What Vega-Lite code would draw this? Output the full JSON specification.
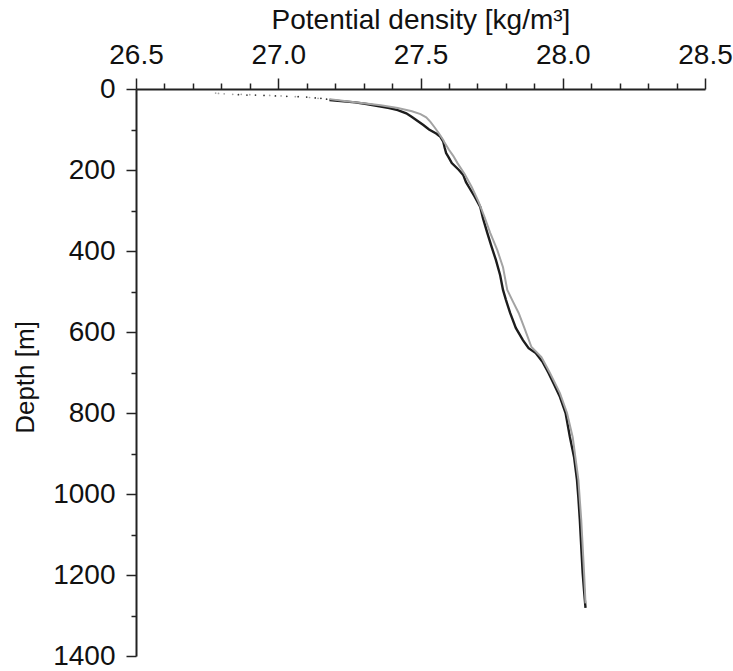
{
  "$schema": "https://vega.github.io/schema/vega-lite/v6.json",
  "autosize": "none",
  "width": 569,
  "height": 567,
  "padding": {"left": 136, "top": 89, "right": 28, "bottom": 15},
  "background": "white",
  "config": {
    "view": {"stroke": null},
    "font": "Liberation Sans",
    "axis": {"grid": false, "domainColor": "#222", "tickColor": "#222", "domainWidth": 2, "tickWidth": 1.5, "labelColor": "#111", "titleColor": "#111", "labelFont": "Liberation Sans", "titleFont": "Liberation Sans", "titleFontWeight": "normal"}
  },
  "datasets": {
    "profiles": [
      {"cast": "A", "kind": "dot", "depth": 14, "density": 26.86},
      {"cast": "A", "kind": "dot", "depth": 15, "density": 26.89},
      {"cast": "A", "kind": "dot", "depth": 15, "density": 26.92},
      {"cast": "A", "kind": "dot", "depth": 16, "density": 26.95},
      {"cast": "A", "kind": "dot", "depth": 17, "density": 26.99},
      {"cast": "A", "kind": "dot", "depth": 18, "density": 27.03},
      {"cast": "A", "kind": "dot", "depth": 19, "density": 27.07},
      {"cast": "A", "kind": "dot", "depth": 20, "density": 27.10},
      {"cast": "A", "kind": "dot", "depth": 22, "density": 27.13},
      {"cast": "A", "kind": "dot", "depth": 23, "density": 27.15},
      {"cast": "A", "kind": "dot", "depth": 25, "density": 27.17},
      {"cast": "B", "kind": "dot", "depth": 10, "density": 26.78},
      {"cast": "B", "kind": "dot", "depth": 11, "density": 26.79},
      {"cast": "B", "kind": "dot", "depth": 12, "density": 26.81},
      {"cast": "B", "kind": "dot", "depth": 13, "density": 26.84},
      {"cast": "B", "kind": "dot", "depth": 13, "density": 26.87},
      {"cast": "B", "kind": "dot", "depth": 14, "density": 26.90},
      {"cast": "B", "kind": "dot", "depth": 16, "density": 26.97},
      {"cast": "B", "kind": "dot", "depth": 17, "density": 27.01},
      {"cast": "B", "kind": "dot", "depth": 19, "density": 27.06},
      {"cast": "B", "kind": "dot", "depth": 21, "density": 27.11},
      {"cast": "B", "kind": "dot", "depth": 23, "density": 27.14},
      {"cast": "A", "kind": "line", "depth": 27, "density": 27.18},
      {"cast": "A", "kind": "line", "depth": 30, "density": 27.22},
      {"cast": "A", "kind": "line", "depth": 33, "density": 27.27},
      {"cast": "A", "kind": "line", "depth": 37, "density": 27.31},
      {"cast": "A", "kind": "line", "depth": 42, "density": 27.35},
      {"cast": "A", "kind": "line", "depth": 47, "density": 27.39},
      {"cast": "A", "kind": "line", "depth": 52, "density": 27.42},
      {"cast": "A", "kind": "line", "depth": 60, "density": 27.45},
      {"cast": "A", "kind": "line", "depth": 69, "density": 27.47},
      {"cast": "A", "kind": "line", "depth": 79, "density": 27.49},
      {"cast": "A", "kind": "line", "depth": 89, "density": 27.51},
      {"cast": "A", "kind": "line", "depth": 100, "density": 27.53},
      {"cast": "A", "kind": "line", "depth": 110, "density": 27.555},
      {"cast": "A", "kind": "line", "depth": 118, "density": 27.57},
      {"cast": "A", "kind": "line", "depth": 130, "density": 27.58},
      {"cast": "A", "kind": "line", "depth": 145, "density": 27.585},
      {"cast": "A", "kind": "line", "depth": 158, "density": 27.59},
      {"cast": "A", "kind": "line", "depth": 170, "density": 27.6},
      {"cast": "A", "kind": "line", "depth": 183, "density": 27.61},
      {"cast": "A", "kind": "line", "depth": 200, "density": 27.635},
      {"cast": "A", "kind": "line", "depth": 212, "density": 27.65},
      {"cast": "A", "kind": "line", "depth": 230, "density": 27.66},
      {"cast": "A", "kind": "line", "depth": 242, "density": 27.67},
      {"cast": "A", "kind": "line", "depth": 265, "density": 27.69},
      {"cast": "A", "kind": "line", "depth": 291, "density": 27.71},
      {"cast": "A", "kind": "line", "depth": 320, "density": 27.72},
      {"cast": "A", "kind": "line", "depth": 356, "density": 27.735},
      {"cast": "A", "kind": "line", "depth": 390, "density": 27.75},
      {"cast": "A", "kind": "line", "depth": 422, "density": 27.765},
      {"cast": "A", "kind": "line", "depth": 460, "density": 27.78},
      {"cast": "A", "kind": "line", "depth": 496, "density": 27.79},
      {"cast": "A", "kind": "line", "depth": 520, "density": 27.8},
      {"cast": "A", "kind": "line", "depth": 553, "density": 27.815},
      {"cast": "A", "kind": "line", "depth": 590, "density": 27.835},
      {"cast": "A", "kind": "line", "depth": 620, "density": 27.86},
      {"cast": "A", "kind": "line", "depth": 640, "density": 27.88},
      {"cast": "A", "kind": "line", "depth": 652, "density": 27.905},
      {"cast": "A", "kind": "line", "depth": 675, "density": 27.93},
      {"cast": "A", "kind": "line", "depth": 701, "density": 27.95},
      {"cast": "A", "kind": "line", "depth": 730, "density": 27.97},
      {"cast": "A", "kind": "line", "depth": 760, "density": 27.99},
      {"cast": "A", "kind": "line", "depth": 800, "density": 28.01},
      {"cast": "A", "kind": "line", "depth": 859, "density": 28.025},
      {"cast": "A", "kind": "line", "depth": 910, "density": 28.04},
      {"cast": "A", "kind": "line", "depth": 965, "density": 28.05},
      {"cast": "A", "kind": "line", "depth": 1010, "density": 28.055},
      {"cast": "A", "kind": "line", "depth": 1064, "density": 28.06},
      {"cast": "A", "kind": "line", "depth": 1130, "density": 28.065},
      {"cast": "A", "kind": "line", "depth": 1195, "density": 28.07},
      {"cast": "A", "kind": "line", "depth": 1240, "density": 28.075},
      {"cast": "A", "kind": "line", "depth": 1281, "density": 28.08},
      {"cast": "B", "kind": "line", "depth": 25, "density": 27.18},
      {"cast": "B", "kind": "line", "depth": 30, "density": 27.24},
      {"cast": "B", "kind": "line", "depth": 35, "density": 27.3},
      {"cast": "B", "kind": "line", "depth": 40, "density": 27.36},
      {"cast": "B", "kind": "line", "depth": 47, "density": 27.42},
      {"cast": "B", "kind": "line", "depth": 55, "density": 27.47},
      {"cast": "B", "kind": "line", "depth": 62, "density": 27.5},
      {"cast": "B", "kind": "line", "depth": 70, "density": 27.52},
      {"cast": "B", "kind": "line", "depth": 81, "density": 27.535},
      {"cast": "B", "kind": "line", "depth": 95, "density": 27.55},
      {"cast": "B", "kind": "line", "depth": 110, "density": 27.565},
      {"cast": "B", "kind": "line", "depth": 126, "density": 27.58},
      {"cast": "B", "kind": "line", "depth": 133, "density": 27.585},
      {"cast": "B", "kind": "line", "depth": 150, "density": 27.6},
      {"cast": "B", "kind": "line", "depth": 165, "density": 27.615},
      {"cast": "B", "kind": "line", "depth": 183, "density": 27.63},
      {"cast": "B", "kind": "line", "depth": 210, "density": 27.655},
      {"cast": "B", "kind": "line", "depth": 242, "density": 27.68},
      {"cast": "B", "kind": "line", "depth": 280, "density": 27.705},
      {"cast": "B", "kind": "line", "depth": 316, "density": 27.725},
      {"cast": "B", "kind": "line", "depth": 355, "density": 27.745},
      {"cast": "B", "kind": "line", "depth": 398, "density": 27.77},
      {"cast": "B", "kind": "line", "depth": 440, "density": 27.79},
      {"cast": "B", "kind": "line", "depth": 496, "density": 27.805},
      {"cast": "B", "kind": "line", "depth": 525, "density": 27.825},
      {"cast": "B", "kind": "line", "depth": 553, "density": 27.845},
      {"cast": "B", "kind": "line", "depth": 590, "density": 27.865},
      {"cast": "B", "kind": "line", "depth": 637, "density": 27.89},
      {"cast": "B", "kind": "line", "depth": 662, "density": 27.925},
      {"cast": "B", "kind": "line", "depth": 701, "density": 27.955},
      {"cast": "B", "kind": "line", "depth": 751, "density": 27.99},
      {"cast": "B", "kind": "line", "depth": 800, "density": 28.015},
      {"cast": "B", "kind": "line", "depth": 860, "density": 28.035},
      {"cast": "B", "kind": "line", "depth": 965, "density": 28.055},
      {"cast": "B", "kind": "line", "depth": 1064, "density": 28.065},
      {"cast": "B", "kind": "line", "depth": 1195, "density": 28.075},
      {"cast": "B", "kind": "line", "depth": 1270, "density": 28.08}
    ]
  },
  "data": {"name": "profiles"},
  "encoding": {
    "x": {
      "field": "density", "type": "quantitative",
      "scale": {"domain": [26.5, 28.5], "nice": false, "zero": false},
      "axis": {
        "orient": "top",
        "title": "Potential density [kg/m³]",
        "titleFontSize": 28,
        "titleY": -61,
        "titleBaseline": "alphabetic",
        "values": [26.5, 26.6, 26.7, 26.8, 26.9, 27.0, 27.1, 27.2, 27.3, 27.4, 27.5, 27.6, 27.7, 27.8, 27.9, 28.0, 28.1, 28.2, 28.3, 28.4, 28.5],
        "labelExpr": "abs(datum.value*2 - round(datum.value*2)) < 0.001 ? format(datum.value, '.1f') : ''",
        "labelFontSize": 28,
        "labelPadding": 9,
        "labelFlush": false,
        "labelOverlap": false,
        "tickSize": {"condition": {"test": "abs(datum.value*2 - round(datum.value*2)) < 0.001", "value": 11}, "value": 6}
      }
    },
    "y": {
      "field": "depth", "type": "quantitative",
      "scale": {"domain": [0, 1400], "nice": false, "reverse": true},
      "axis": {
        "orient": "left",
        "title": "Depth [m]",
        "titleFontSize": 26,
        "titleX": -111,
        "titleY": 288,
        "titleBaseline": "middle",
        "values": [0, 100, 200, 300, 400, 500, 600, 700, 800, 900, 1000, 1100, 1200, 1300, 1400],
        "labelExpr": "datum.value % 200 == 0 ? format(datum.value, 'd') : ''",
        "labelFontSize": 28,
        "labelPadding": 11,
        "labelFlush": false,
        "labelOverlap": false,
        "tickSize": {"condition": {"test": "datum.value % 200 == 0", "value": 10}, "value": 5}
      }
    }
  },
  "layer": [
    {
      "transform": [{"filter": "datum.kind == 'line' && datum.cast == 'A'"}],
      "mark": {"type": "line", "color": "#1c1c1c", "strokeWidth": 2.4},
      "encoding": {"order": {"field": "depth", "type": "quantitative"}}
    },
    {
      "transform": [{"filter": "datum.kind == 'line' && datum.cast == 'B'"}],
      "mark": {"type": "line", "color": "#a3a3a3", "strokeWidth": 2},
      "encoding": {"order": {"field": "depth", "type": "quantitative"}}
    },
    {
      "transform": [{"filter": "datum.kind == 'dot'"}],
      "mark": {"type": "point", "filled": true, "size": 3, "opacity": 1},
      "encoding": {
        "color": {"field": "cast", "type": "nominal", "scale": {"domain": ["A", "B"], "range": ["#333333", "#a3a3a3"]}, "legend": null}
      }
    }
  ]
}
